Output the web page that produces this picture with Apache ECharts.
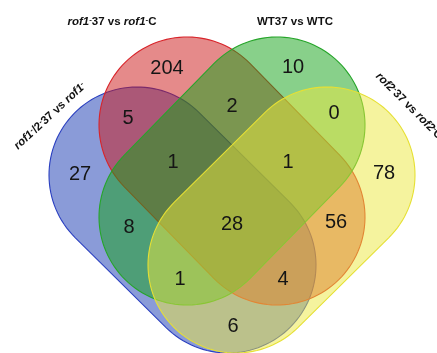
<!DOCTYPE html>
<html>
<head>
<meta charset="utf-8">
<script src="https://cdn.jsdelivr.net/npm/echarts@6/dist/echarts.min.js"></script>
<style>
  html, body { margin: 0; padding: 0; background: #ffffff; }
  #chart { width: 437px; height: 353px; }
</style>
</head>
<body>
<div id="chart"></div>
<script>
// Set names (drawn as rich-text captions) and region counts of the 4-way Venn diagram.
const setNames = ['rof1-/2-37 vs rof1-', 'rof1-37 vs rof1-C', 'WT37 vs WTC', 'rof2-37 vs rof2-C'];
// Region membership codes: B = rof1/2, R = rof1, G = WT, Y = rof2
const regionKeys   = ['R', 'G', 'BR', 'RG', 'GY', 'B', 'BRG', 'RGY', 'Y', 'BG', 'BRGY', 'RY', 'BGY', 'BRY', 'BY'];
const regionCounts = [204, 10, 5, 2, 0, 27, 1, 1, 78, 8, 28, 56, 1, 4, 6];

// ---- layout (diagram coordinates in px, y downwards) ----
const W = 437, H = 353;
const R = 88; // cap radius of each stadium-shaped set
// each set: centre of the upper cap and of the lower cap
const setShapes = [
  { c1: [137, 175], c2: [228, 265], fill: 'rgba(21,55,177,0.5)',  stroke: '#2a3fc0' },
  { c1: [187, 125], c2: [277, 217], fill: 'rgba(203,21,21,0.5)',  stroke: '#d8242a' },
  { c1: [277, 125], c2: [187, 217], fill: 'rgba(17,161,21,0.5)',  stroke: '#26a52a' },
  { c1: [327, 175], c2: [236, 265], fill: 'rgba(235,231,61,0.5)', stroke: '#e6e034' }
];
// label anchor for each region
const regionAnchors = {
  R: [167, 68], G: [293, 67], BR: [128, 118], RG: [232, 106], GY: [334, 113],
  B: [80, 174], BRG: [173, 162], RGY: [288, 162], Y: [384, 173],
  BG: [129, 227], BRGY: [232, 224], RY: [336, 222],
  BGY: [180, 279], BRY: [283, 279], BY: [233, 326]
};

// outline of a stadium (two semicircular caps joined by tangents)
function stadium(c1, c2, r) {
  const dx = c2[0] - c1[0], dy = c2[1] - c1[1];
  const th = Math.atan2(dy, dx);
  const pts = [];
  const n = 64;
  for (let i = 0; i <= n; i++) {
    const a = th + Math.PI / 2 + Math.PI * i / n;
    pts.push([c1[0] + r * Math.cos(a), c1[1] + r * Math.sin(a)]);
  }
  for (let i = 0; i <= n; i++) {
    const a = th - Math.PI / 2 + Math.PI * i / n;
    pts.push([c2[0] + r * Math.cos(a), c2[1] + r * Math.sin(a)]);
  }
  return pts;
}

const chart = echarts.init(document.getElementById('chart'), null, { renderer: 'canvas' });

const labelData = regionKeys.map((k, i) => [regionAnchors[k][0], regionAnchors[k][1], regionCounts[i]]);

// caption with italic gene names and raised minus signs
const base = { fontFamily: 'Liberation Sans', fontWeight: 'bold', fontSize: 11.5, fill: '#111' };
const rich = {
  it:  { fontFamily: 'Liberation Sans', fontWeight: 'bold', fontStyle: 'italic', fontSize: 11.5, fill: '#111' },
  n:   { fontFamily: 'Liberation Sans', fontWeight: 'bold', fontSize: 11.5, fill: '#111' },
  sup: { fontFamily: 'Liberation Sans', fontWeight: 'bold', fontSize: 8, fill: '#111', verticalAlign: 'top' }
};
function caption(text, x, y, rot) {
  return {
    type: 'text', x: x, y: y, rotation: rot, z: 100,
    style: Object.assign({}, base, { text: text, rich: rich, align: 'center', verticalAlign: 'middle' })
  };
}

chart.setOption({
  animation: false,
  backgroundColor: '#ffffff',
  grid: { left: 0, right: 0, top: 0, bottom: 0 },
  xAxis: { type: 'value', min: 0, max: W, show: false },
  yAxis: { type: 'value', min: 0, max: H, inverse: true, show: false },
  series: [
    {
      type: 'custom',
      data: setShapes.map((s, i) => [i]),
      clip: false,
      renderItem: function (params, api) {
        const s = setShapes[api.value(0)];
        const pts = stadium(s.c1, s.c2, R).map(p => api.coord(p));
        return {
          type: 'polygon',
          shape: { points: pts },
          style: { fill: s.fill, stroke: s.stroke, lineWidth: 1.1 }
        };
      },
      z: 1
    },
    {
      type: 'custom',
      data: labelData,
      renderItem: function (params, api) {
        const p = api.coord([api.value(0), api.value(1)]);
        return {
          type: 'text',
          x: p[0], y: p[1],
          style: {
            text: String(api.value(2)),
            fontFamily: 'Liberation Sans', fontSize: 20, fill: '#151515',
            align: 'center', verticalAlign: 'middle'
          }
        };
      },
      z: 10
    }
  ],
  graphic: [
    caption('{it|rof1}{sup|-}{n|37 vs }{it|rof1}{sup|-}{n|C}', 112, 22, 0),
    caption('{n|WT37 vs WTC}', 295, 22, 0),
    caption('{it|rof1}{sup|-}{n|/2}{sup|-}{n|37 vs }{it|rof1}{sup|-}', 50, 116, Math.PI / 4 * 0.95),
    caption('{it|rof2}{sup|-}{n|37 vs }{it|rof2}{sup|-}{n|C}', 409, 106, -Math.PI / 4)
  ]
});
</script>
</body>
</html>
